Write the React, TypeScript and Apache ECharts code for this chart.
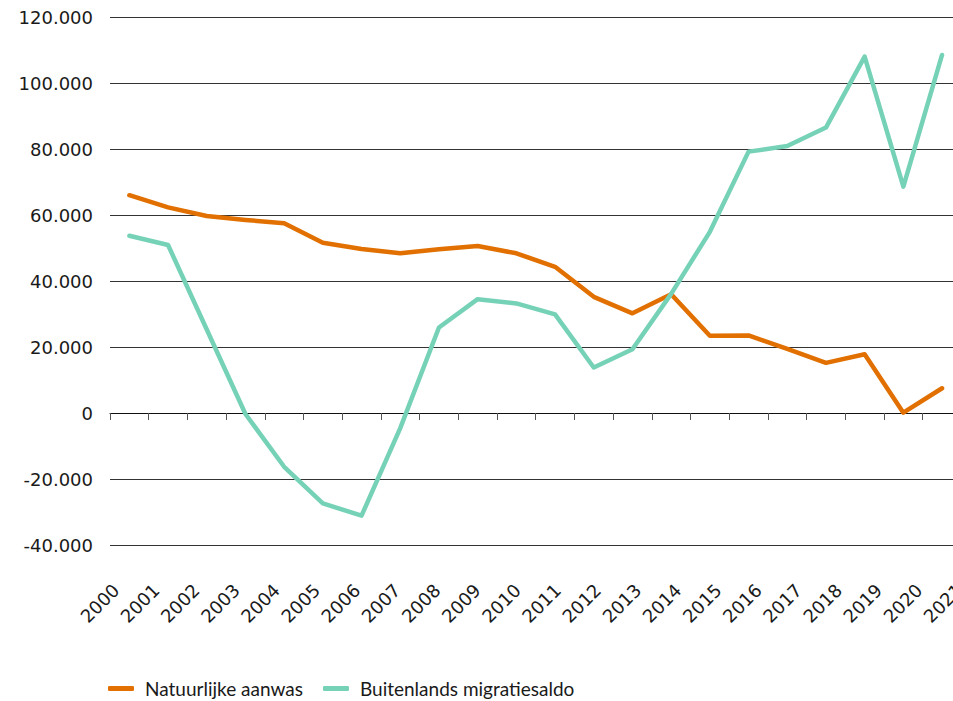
import React, { useEffect, useRef } from "react";
import * as echarts from "echarts";

const years = [
  "2000", "2001", "2002", "2003", "2004", "2005", "2006", "2007", "2008", "2009", "2010",
  "2011", "2012", "2013", "2014", "2015", "2016", "2017", "2018", "2019", "2020", "2021",
];

const natuurlijkeAanwas = [
  66000, 62300, 59700, 58500, 57500, 51600, 49700, 48400, 49600, 50600, 48400,
  44300, 35200, 30200, 36000, 23400, 23500, 19400, 15200, 17800, 100, 7500,
];

const buitenlandsMigratiesaldo = [
  53700, 50900, 25300, -300, -16300, -27400, -31100, -4600, 25900, 34500, 33200,
  29900, 13800, 19300, 36100, 54900, 79200, 80900, 86500, 108000, 68600, 108500,
];

const yTicks = [-40000, -20000, 0, 20000, 40000, 60000, 80000, 100000, 120000];

const seriesNames = ["Natuurlijke aanwas", "Buitenlands migratiesaldo"];
const colors = ["#E17000", "#76D2B6"];

const fmt = (v: number) => {
  const s = Math.abs(v).toString().replace(/\B(?=(\d{3})+(?!\d))/g, ".");
  return (v < 0 ? "-" : "") + s;
};

export default function App() {
  const ref = useRef<HTMLDivElement>(null);
  useEffect(() => {
    if (!ref.current) return;
    const chart = echarts.init(ref.current, null, { renderer: "svg" });
    const axisFont = "DejaVu Sans";
    chart.setOption({
      animation: false,
      backgroundColor: "#ffffff",
      grid: [
        { left: 110, top: 17, width: 22 * 38.7, height: 528 },
        { left: 116, top: 17, width: 21 * 40.15, height: 563 },
      ],
      xAxis: [
        {
          type: "category",
          gridIndex: 0,
          data: years,
          boundaryGap: true,
          axisLine: { show: true, onZero: true, lineStyle: { color: "#111", width: 1 } },
          axisTick: { show: true, length: 7, inside: false, lineStyle: { color: "#555", width: 1 } },
          axisLabel: { show: false },
          splitLine: { show: false },
        },
        {
          type: "category",
          gridIndex: 1,
          data: years,
          boundaryGap: false,
          axisLine: { show: false },
          axisTick: { show: false },
          splitLine: { show: false },
          axisLabel: {
            show: true,
            interval: 0,
            rotate: 45,
            margin: 7,
            fontFamily: axisFont,
            fontSize: 18,
            color: "#1a1a1a",
          },
        },
      ],
      yAxis: [
        {
          type: "value",
          gridIndex: 0,
          min: yTicks[0],
          max: yTicks[yTicks.length - 1],
          interval: yTicks[1] - yTicks[0],
          axisLine: { show: false },
          axisTick: { show: false },
          axisLabel: {
            margin: 17,
            fontFamily: axisFont,
            fontSize: 18,
            color: "#1a1a1a",
            formatter: (v: number) => fmt(v),
          },
          splitLine: { show: true, lineStyle: { color: "#333", width: 1 } },
        },
        { type: "value", gridIndex: 1, show: false },
      ],
      legend: {
        left: 108,
        top: 679,
        padding: 0,
        itemWidth: 26,
        itemHeight: 5,
        itemGap: 20,
        icon: "roundRect",
        data: seriesNames,
        textStyle: {
          fontFamily: "Lato",
          fontSize: 19,
          color: "#1a1a1a",
          padding: [0, 0, 0, 6],
        },
      },
      series: [
        {
          name: seriesNames[0],
          type: "line",
          data: natuurlijkeAanwas,
          xAxisIndex: 0,
          yAxisIndex: 0,
          symbol: "none",
          itemStyle: { color: colors[0] },
          lineStyle: { color: colors[0], width: 4.5, cap: "round", join: "round" },
          z: 3,
        },
        {
          name: seriesNames[1],
          type: "line",
          data: buitenlandsMigratiesaldo,
          xAxisIndex: 0,
          yAxisIndex: 0,
          symbol: "none",
          itemStyle: { color: colors[1] },
          lineStyle: { color: colors[1], width: 4.5, cap: "round", join: "round" },
          z: 4,
        },
      ],
    });
    return () => chart.dispose();
  }, []);
  return (
    <div
      style={{
        position: "absolute",
        left: 0,
        top: 0,
        width: 953,
        height: 701,
        overflow: "hidden",
        background: "#fff",
      }}
    >
      <div ref={ref} style={{ width: 975, height: 701 }} />
    </div>
  );
}
